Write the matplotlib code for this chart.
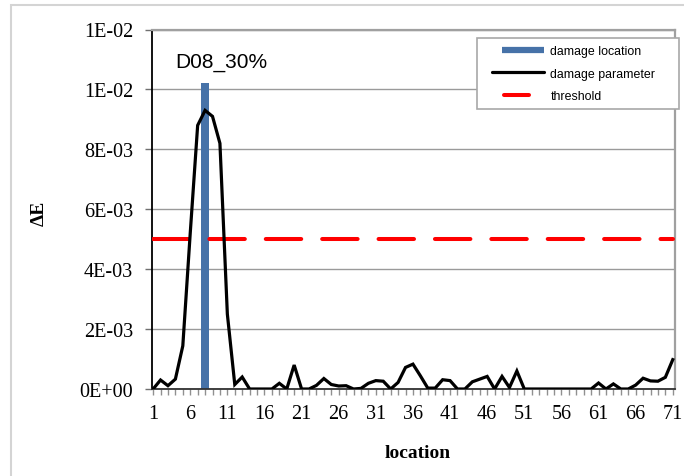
import matplotlib
matplotlib.use("Agg")
import matplotlib.pyplot as plt
from matplotlib.lines import Line2D
from matplotlib.patches import Rectangle
from matplotlib.legend_handler import HandlerBase

# ---- data ----
locations = list(range(1, 72))
damage_parameter = [
    0.0, 0.00030, 0.00011, 0.00033, 0.00144, 0.00520, 0.00880, 0.00930, 0.00910, 0.00820,
    0.00250, 0.00015, 0.00040, 0.0, 0.0, 0.0, 0.0, 0.00019, 0.0, 0.00080,
    0.0, 0.0, 0.00012, 0.00035, 0.00015, 0.00010, 0.00011, 0.0, 0.00002, 0.00019,
    0.00028, 0.00026, 0.0, 0.00022, 0.00072, 0.00083, 0.00044, 0.00003, 0.00003, 0.00031,
    0.00028, 0.0, 0.0, 0.00024, 0.00033, 0.00042, 0.0, 0.00042, 0.00005, 0.00060,
    0.0, 0.0, 0.0, 0.0, 0.0, 0.0, 0.0, 0.0, 0.0, 0.0,
    0.00020, 0.0, 0.00017, 0.0, 0.0, 0.00013, 0.00036, 0.00027, 0.00026, 0.00039,
    0.00098,
]
damage_location = [8]
damage_location_height = [0.0102]
threshold = 0.005
x_tick_values = list(range(1, 72, 5))
y_tick_values = [0.0, 0.002, 0.004, 0.006, 0.008, 0.010, 0.012]
y_tick_labels = ["0E+00", "2E-03", "4E-03", "6E-03", "8E-03", "1E-02", "1E-02"]
case_label = "D08_30%"
legend_labels = ["damage location", "damage parameter", "threshold"]

W, H = 684, 477
fig = plt.figure(figsize=(W / 100, H / 100), dpi=100)
fig.patch.set_facecolor("white")

# outer light frame
fig.patches.append(Rectangle((11 / W, -0.05), 1.2, 1 - 6 / H + 0.05,
                             transform=fig.transFigure, fill=False,
                             edgecolor="#D4D4D4", lw=1.5))

ax_l, ax_r, ax_t, ax_b = 152, 675, 30.5, 390
ax = fig.add_axes([ax_l / W, 1 - ax_b / H, (ax_r - ax_l) / W, (ax_b - ax_t) / H])

serif = ["Liberation Serif", "DejaVu Serif"]
sans = ["Liberation Sans", "DejaVu Sans"]

bar_color = "#4672A8"
red = "#FF0000"

ax.bar(damage_location, damage_location_height, width=1.0, color=bar_color, zorder=2)
ax.plot([locations[0], locations[-1]], [threshold, threshold], color=red, lw=2.9,
        dashes=(8.8, 5.2), dash_capstyle="round", zorder=3)
ax.plot(locations, damage_parameter, color="black", lw=2.3, solid_joinstyle="miter", zorder=4)

ax.set_xlim(0.85, 71.3)
ax.set_ylim(0, 0.012)

ax.set_xticks(locations)
ax.set_xticklabels([str(v) if v in x_tick_values else "" for v in locations],
                   fontfamily=serif, fontsize=14.5)
ax.set_yticks(y_tick_values)
ax.set_yticklabels(y_tick_labels, fontfamily=serif, fontsize=14.5)
ax.tick_params(axis="x", direction="out", length=4, width=1, color="#909090", pad=7)
ax.tick_params(axis="y", direction="out", length=5, width=1, color="#707070", pad=8.5)

ax.yaxis.grid(True, color="#9A9A9A", lw=1.0)
ax.set_axisbelow(True)
for s in ("top", "right"):
    ax.spines[s].set_color("#A0A0A0")
    ax.spines[s].set_linewidth(1.6)
ax.spines["left"].set_color("black")
ax.spines["left"].set_linewidth(1.3)
ax.spines["bottom"].set_color("#303030")
ax.spines["bottom"].set_linewidth(1.3)

ax.set_xlabel("location", fontfamily=serif, fontsize=14, fontweight="bold")
ax.xaxis.set_label_coords((418 - ax_l) / (ax_r - ax_l), -(445 - ax_b) / (ax_b - ax_t))
ax.set_ylabel("ΔE", fontfamily=serif, fontsize=14, fontweight="bold")
ax.yaxis.set_label_coords(-(ax_l - 48) / (ax_r - ax_l), (ax_b - 213) / (ax_b - ax_t))

ax.text((175 - ax_l) / (ax_r - ax_l), (ax_b - 67.7) / (ax_b - ax_t), case_label,
        transform=ax.transAxes, fontfamily=sans, fontsize=15, ha="left", va="baseline")


class SegmentHandler(HandlerBase):
    """Draws a legend line only over a fraction of the handle box."""

    def __init__(self, start, end, **kw):
        super().__init__(**kw)
        self.start, self.end = start, end

    def create_artists(self, legend, orig_handle, xdescent, ydescent, width, height,
                       fontsize, trans):
        x0 = -xdescent + self.start * width
        x1 = -xdescent + self.end * width
        y = -ydescent + height / 2
        ln = Line2D([x0, x1], [y, y], color=orig_handle.get_color(),
                    lw=orig_handle.get_linewidth(),
                    solid_capstyle=orig_handle.get_solid_capstyle(), transform=trans)
        return [ln]


h_bar = Line2D([], [], color=bar_color, lw=4.5, solid_capstyle="butt")
h_line = Line2D([], [], color="black", lw=2.3, solid_capstyle="round")
h_thr = Line2D([], [], color=red, lw=2.9, solid_capstyle="round")

leg = ax.legend(
    [h_bar, h_line, h_thr], legend_labels, loc="upper left",
    bbox_to_anchor=(477 / W, 1 - 39 / H, (679 - 477) / W, 0.0),
    bbox_transform=fig.transFigure, mode="expand", borderaxespad=0,
    prop={"family": sans, "size": 8.9}, handlelength=4.85, handletextpad=0.48,
    labelspacing=0.83, borderpad=0.6, fancybox=False, shadow=False,
    framealpha=1, edgecolor="#A8A8A8",
    handler_map={h_bar: SegmentHandler(0.30, 1.0),
                 h_line: SegmentHandler(0.12, 0.99),
                 h_thr: SegmentHandler(0.32, 0.74)})
leg.get_frame().set_linewidth(1.2)

fig.savefig("out.png", dpi=100)
